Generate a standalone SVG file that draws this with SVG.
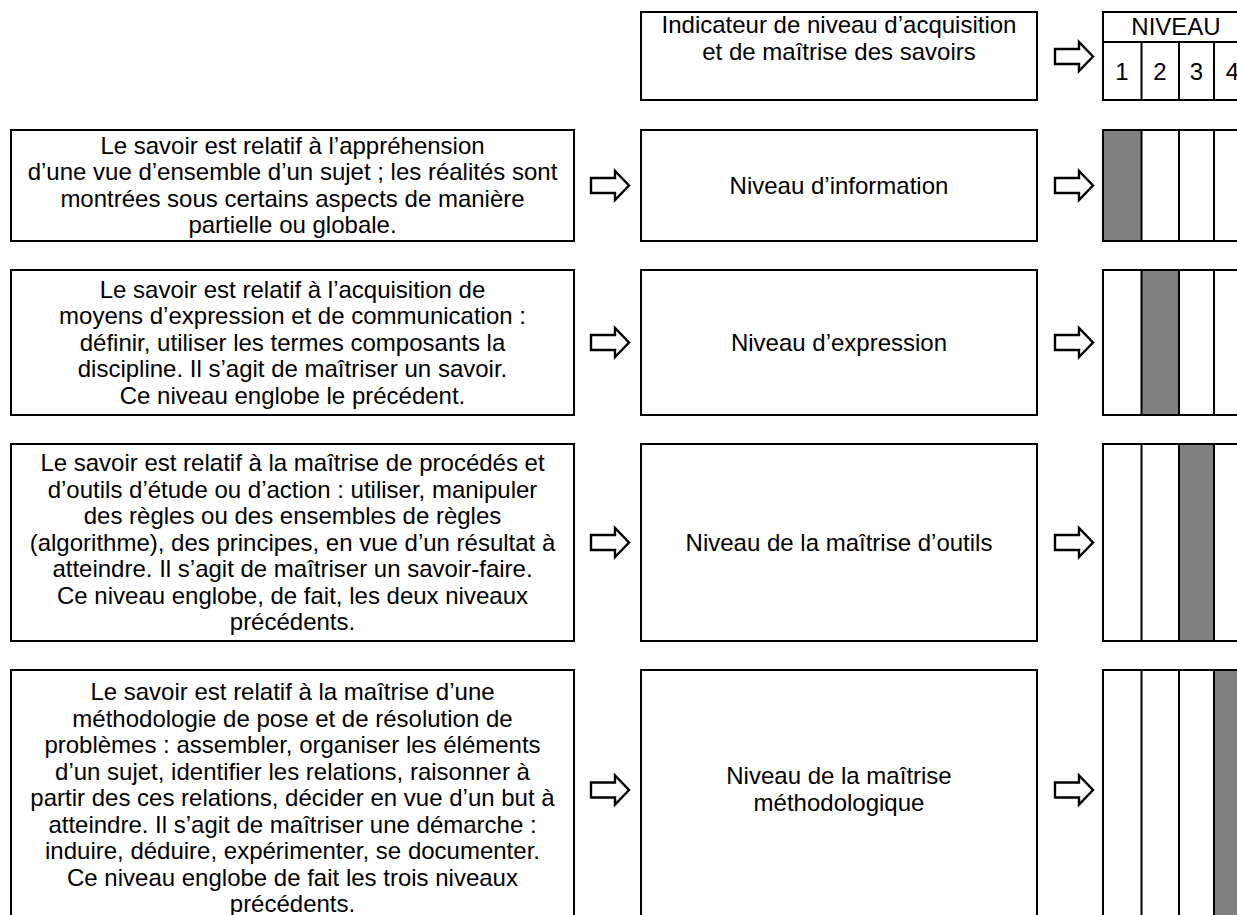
<svg xmlns="http://www.w3.org/2000/svg" width="1237" height="915" viewBox="0 0 1237 915">
<style>
  .box{fill:#fff;stroke:#000;stroke-width:2}
  .ln{stroke:#000;stroke-width:2;fill:none}
  .gray{fill:#808080}
  .arr{fill:#fff;stroke:#000;stroke-width:2.4;stroke-linejoin:miter}
  text{font-family:"Liberation Sans",Arial,sans-serif;font-size:24px;fill:#000;text-anchor:middle}
</style>
<defs>
  <polygon id="arrow" class="arr" points="0,-7.5 24,-7.5 24,-14.5 38,0 24,14.5 24,7.5 0,7.5"/>
</defs>
<rect width="1237" height="915" fill="#fff"/>

<g id="header">
  <rect class="box" x="641" y="12" width="396" height="88"/>
  <text x="839" y="33">Indicateur de niveau d’acquisition</text>
  <text x="839" y="60">et de maîtrise des savoirs</text>
</g>
<g id="niveau-table">
  <rect class="box" x="1103" y="12" width="148" height="88"/>
  <line class="ln" x1="1103" y1="42" x2="1251" y2="42"/>
  <line class="ln" x1="1141.5" y1="42" x2="1141.5" y2="100"/>
  <line class="ln" x1="1179" y1="42" x2="1179" y2="100"/>
  <line class="ln" x1="1214" y1="42" x2="1214" y2="100"/>
  <text x="1176" y="35">NIVEAU</text>
  <text x="1122" y="80">1</text>
  <text x="1160" y="80">2</text>
  <text x="1196.5" y="80">3</text>
  <text x="1232.5" y="80">4</text>
</g>

<g id="row1-desc">
  <rect class="box" x="11" y="130" width="563" height="111"/>
  <text x="292.5" y="153.75">Le savoir est relatif à l’appréhension</text>
  <text x="292.5" y="180.25">d’une vue d’ensemble d’un sujet ; les réalités sont</text>
  <text x="292.5" y="206.75">montrées sous certains aspects de manière</text>
  <text x="292.5" y="233.25">partielle ou globale.</text>
</g>
<g id="row1-level">
  <rect class="box" x="641" y="130" width="396" height="111"/>
  <text x="839" y="193.5">Niveau d’information</text>
</g>
<g id="row1-bar">
  <rect class="gray" x="1103" y="130" width="38.5" height="111"/>
  <rect class="box" x="1103" y="130" width="148" height="111" fill="none" style="fill:none"/>
  <line class="ln" x1="1141.5" y1="130" x2="1141.5" y2="241"/>
  <line class="ln" x1="1179" y1="130" x2="1179" y2="241"/>
  <line class="ln" x1="1214" y1="130" x2="1214" y2="241"/>
</g>

<g id="row2-desc">
  <rect class="box" x="11" y="270" width="563" height="145"/>
  <text x="292.5" y="297.5">Le savoir est relatif à l’acquisition de</text>
  <text x="292.5" y="324">moyens d’expression et de communication :</text>
  <text x="292.5" y="350.5">définir, utiliser les termes composants la</text>
  <text x="292.5" y="377">discipline. Il s’agit de maîtriser un savoir.</text>
  <text x="292.5" y="403.5">Ce niveau englobe le précédent.</text>
</g>
<g id="row2-level">
  <rect class="box" x="641" y="270" width="396" height="145"/>
  <text x="839" y="350.5">Niveau d’expression</text>
</g>
<g id="row2-bar">
  <rect class="gray" x="1141.5" y="270" width="37.5" height="145"/>
  <rect class="box" x="1103" y="270" width="148" height="145" style="fill:none"/>
  <line class="ln" x1="1141.5" y1="270" x2="1141.5" y2="415"/>
  <line class="ln" x1="1179" y1="270" x2="1179" y2="415"/>
  <line class="ln" x1="1214" y1="270" x2="1214" y2="415"/>
</g>

<g id="row3-desc">
  <rect class="box" x="11" y="444" width="563" height="197"/>
  <text x="292.5" y="471">Le savoir est relatif à la maîtrise de procédés et</text>
  <text x="292.5" y="497.5">d’outils d’étude ou d’action : utiliser, manipuler</text>
  <text x="292.5" y="524">des règles ou des ensembles de règles</text>
  <text x="292.5" y="550.5">(algorithme), des principes, en vue d’un résultat à</text>
  <text x="292.5" y="577">atteindre. Il s’agit de maîtriser un savoir-faire.</text>
  <text x="292.5" y="603.5">Ce niveau englobe, de fait, les deux niveaux</text>
  <text x="292.5" y="630">précédents.</text>
</g>
<g id="row3-level">
  <rect class="box" x="641" y="444" width="396" height="197"/>
  <text x="839" y="550.5">Niveau de la maîtrise d’outils</text>
</g>
<g id="row3-bar">
  <rect class="gray" x="1179" y="444" width="35" height="197"/>
  <rect class="box" x="1103" y="444" width="148" height="197" style="fill:none"/>
  <line class="ln" x1="1141.5" y1="444" x2="1141.5" y2="641"/>
  <line class="ln" x1="1179" y1="444" x2="1179" y2="641"/>
  <line class="ln" x1="1214" y1="444" x2="1214" y2="641"/>
</g>

<g id="row4-desc">
  <rect class="box" x="11" y="670" width="563" height="260"/>
  <text x="292.5" y="700">Le savoir est relatif à la maîtrise d’une</text>
  <text x="292.5" y="726.5">méthodologie de pose et de résolution de</text>
  <text x="292.5" y="753">problèmes : assembler, organiser les éléments</text>
  <text x="292.5" y="779.5">d’un sujet, identifier les relations, raisonner à</text>
  <text x="292.5" y="806">partir des ces relations, décider en vue d’un but à</text>
  <text x="292.5" y="832.5">atteindre. Il s’agit de maîtriser une démarche :</text>
  <text x="292.5" y="859">induire, déduire, expérimenter, se documenter.</text>
  <text x="292.5" y="885.5">Ce niveau englobe de fait les trois niveaux</text>
  <text x="292.5" y="912">précédents.</text>
</g>
<g id="row4-level">
  <rect class="box" x="641" y="670" width="396" height="260"/>
  <text x="839" y="784">Niveau de la maîtrise</text>
  <text x="839" y="811">méthodologique</text>
</g>
<g id="row4-bar">
  <rect class="gray" x="1214" y="670" width="37" height="260"/>
  <rect class="box" x="1103" y="670" width="148" height="260" style="fill:none"/>
  <line class="ln" x1="1141.5" y1="670" x2="1141.5" y2="930"/>
  <line class="ln" x1="1179" y1="670" x2="1179" y2="930"/>
  <line class="ln" x1="1214" y1="670" x2="1214" y2="930"/>
</g>

<g id="connectors">
  <use href="#arrow" x="1055" y="56.5"/>
  <use href="#arrow" x="591" y="185.5"/>
  <use href="#arrow" x="1055" y="185.5"/>
  <use href="#arrow" x="591" y="342.5"/>
  <use href="#arrow" x="1055" y="342.5"/>
  <use href="#arrow" x="591" y="542.5"/>
  <use href="#arrow" x="1055" y="542.5"/>
  <use href="#arrow" x="591" y="790"/>
  <use href="#arrow" x="1055" y="790"/>
</g>
</svg>
